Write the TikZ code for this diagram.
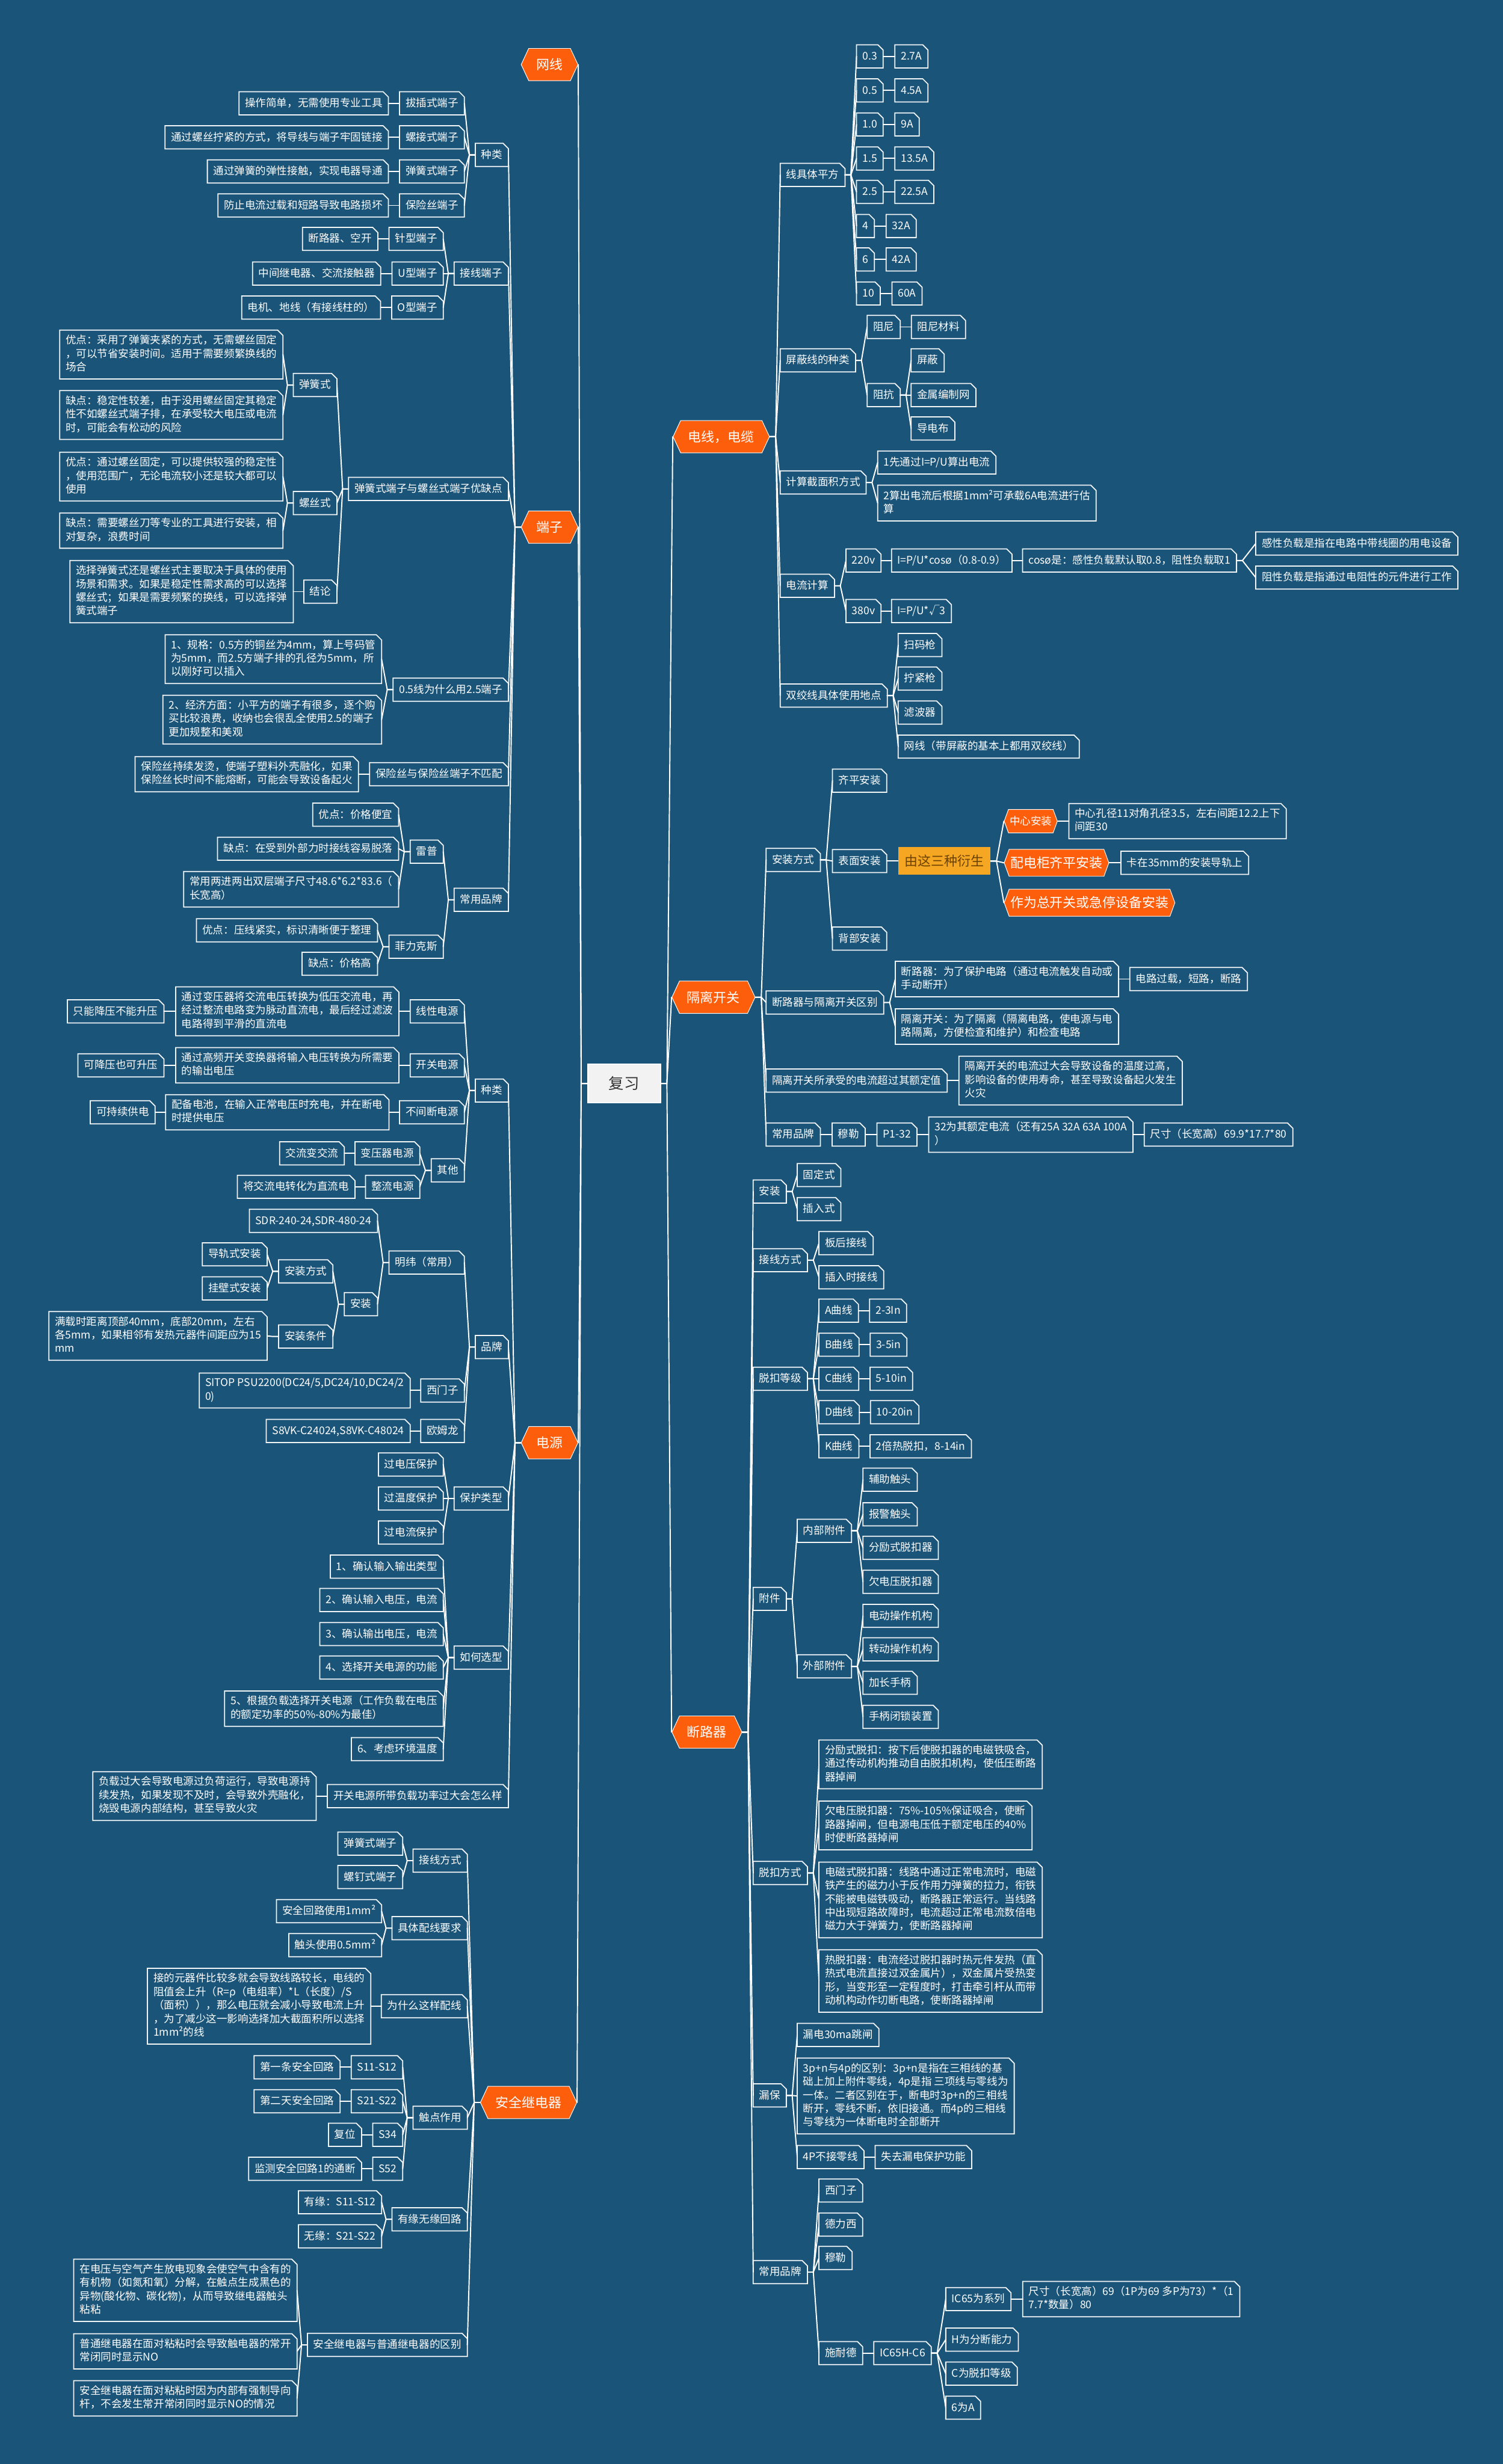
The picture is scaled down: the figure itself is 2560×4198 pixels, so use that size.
\documentclass[tikz,border=0pt]{standalone}
\usepackage{fontspec}
\newfontfamily\cjk{Noto Sans CJK SC}
\usetikzlibrary{shapes.symbols,positioning}
\definecolor{bg}{HTML}{1A5479}
\definecolor{org}{HTML}{FC5E0C}
\definecolor{amb}{HTML}{F5A623}
\definecolor{ambt}{HTML}{6B4200}
\definecolor{bd}{HTML}{F2F5F7}
\definecolor{ctrf}{HTML}{F2F2F2}
\definecolor{ctrt}{HTML}{333333}
\newcommand\myStrA{\rule{0pt}{17.5pt}}
\newcommand\myStrB{\rule[-5.5pt]{0pt}{5.5pt}}
\newcommand\lk[2]{\draw[cn] (#1.west) -- ++(-10,0) -- (#2.east);}
\newcommand\rk[2]{\draw[cn] (#1.east) -- ++(10,0) -- (#2.west);}
\pgfdeclarelayer{bgl}
\pgfsetlayers{bgl,main}
\tikzset{
  bx/.style={rectangle, inner xsep=10pt, inner ysep=8pt, text=white, align=left,
    font=\cjk\fontsize{18}{23}\selectfont,
    execute at begin node=\myStrA, execute at end node=\myStrB,
    append after command={\pgfextra{\let\LN\tikzlastnode
      \draw[bd, line width=1.8pt, line join=miter]
        (\LN.south west) -- (\LN.north west) -- ([xshift=-9pt]\LN.north east)
        -- ([yshift=-9pt]\LN.north east) -- (\LN.south east) -- cycle;}}},
  L/.style={bx, anchor=east},
  R/.style={bx, anchor=west},
  mn/.style={signal, signal to=east and west, signal pointer angle=130,
    fill=org, draw=white, line width=1pt, text=white,
    font=\cjk\fontsize{22.5}{26}\selectfont, inner xsep=13pt, inner ysep=4pt, minimum height=55pt},
  so/.style={mn, inner xsep=2pt, minimum height=46pt, signal pointer angle=140},
  soc/.style={so, font=\cjk\fontsize{18}{22}\selectfont, minimum height=40pt},
  am/.style={rectangle, fill=amb, text=ambt, font=\cjk\fontsize{22.5}{26}\selectfont, inner xsep=11pt, minimum height=47pt},
  ctr/.style={rectangle, fill=ctrf, draw=white, line width=2pt, text=ctrt, font=\cjk\fontsize{26}{30}\selectfont, inner xsep=36pt, minimum height=66pt},
  cn/.style={draw=white, line width=2pt, line join=round, line cap=round},
}
\begin{document}
\begin{tikzpicture}[x=1pt,y=-1pt]
\useasboundingbox (0,0) rectangle (2560,4198);
\begin{pgfonlayer}{bgl}\fill[bg] (0,0) rectangle (2560,4198);\end{pgfonlayer}

% center
\node[ctr] (fx) at (1063,1846) {复习};

% ===== left main
\node[mn, anchor=east] (wx) at (985,110) {网线};
\node[mn, anchor=east] (dz) at (985,898) {端子};
\node[mn, anchor=east] (dy) at (985,2458) {电源};
\node[mn, anchor=east] (aq) at (983,3582) {安全继电器};

% 端子
\node[L] (dz1) at (866,264) {种类};
\node[L] (dz2) at (866,466) {接线端子};
\node[L] (dz3) at (866,833) {弹簧式端子与螺丝式端子优缺点};
\node[L] (dz4) at (866,1175) {0.5线为什么用2.5端子};
\node[L] (dz5) at (866,1319) {保险丝与保险丝端子不匹配};
\node[L] (dz6) at (866,1533) {常用品牌};

\node[L] (a1) at (791,176) {拔插式端子};
\node[L, left=19pt of a1] (a1t) {操作简单，无需使用专业工具};
\node[L] (a2) at (791,234) {螺接式端子};
\node[L, left=19pt of a2] (a2t) {通过螺丝拧紧的方式，将导线与端子牢固链接};
\node[L] (a3) at (791,292) {弹簧式端子};
\node[L, left=19pt of a3] (a3t) {通过弹簧的弹性接触，实现电器导通};
\node[L] (a4) at (791,350) {保险丝端子};
\node[L, left=19pt of a4] (a4t) {防止电流过载和短路导致电路损坏};

\node[L] (b1) at (755,407) {针型端子};
\node[L, left=19pt of b1] (b1t) {断路器、空开};
\node[L] (b2) at (755,466) {U型端子};
\node[L, left=19pt of b2] (b2t) {中间继电器、交流接触器};
\node[L] (b3) at (755,524) {O型端子};
\node[L, left=19pt of b3] (b3t) {电机、地线（有接线柱的）};

\node[L] (c1) at (574,656) {弹簧式};
\node[L] (c1a) at (482,604) {优点：采用了弹簧夹紧的方式，无需螺丝固定\\，可以节省安装时间。适用于需要频繁换线的\\场合};
\node[L] (c1b) at (482,707) {缺点：稳定性较差，由于没用螺丝固定其稳定\\性不如螺丝式端子排，在承受较大电压或电流\\时，可能会有松动的风险};
\node[L] (c2) at (574,857) {螺丝式};
\node[L] (c2a) at (482,812) {优点：通过螺丝固定，可以提供较强的稳定性\\，使用范围广，无论电流较小还是较大都可以\\使用};
\node[L] (c2b) at (482,904) {缺点：需要螺丝刀等专业的工具进行安装，相\\对复杂，浪费时间};
\node[L] (c3) at (574,1008) {结论};
\node[L, left=18pt of c3] (c3a) {选择弹簧式还是螺丝式主要取决于具体的使用\\场景和需求。如果是稳定性需求高的可以选择\\螺丝式；如果是需要频繁的换线，可以选择弹\\簧式端子};

\node[L] (d1) at (650,1123) {1、规格：0.5方的铜丝为4mm，算上号码管\\为5mm，而2.5方端子排的孔径为5mm，所\\以刚好可以插入};
\node[L] (d2) at (650,1226) {2、经济方面：小平方的端子有很多，逐个购\\买比较浪费，收纳也会很乱全使用2.5的端子\\更加规整和美观};

\node[L, left=19pt of dz5] (e1) {保险丝持续发烫，使端子塑料外壳融化，如果\\保险丝长时间不能熔断，可能会导致设备起火};

\node[L] (f1) at (755,1451) {雷普};
\node[L] (f2) at (755,1613) {菲力克斯};
\node[L] (f1a) at (679,1388) {优点：价格便宜};
\node[L] (f1b) at (679,1446) {缺点：在受到外部力时接线容易脱落};
\node[L] (f1c) at (679,1515) {常用两进两出双层端子尺寸48.6*6.2*83.6（\\长宽高）};
\node[L] (f2a) at (643,1585) {优点：压线紧实，标识清晰便于整理};
\node[L] (f2b) at (643,1642) {缺点：价格高};

% 电源
\node[L] (g1) at (866,1858) {种类};
\node[L] (g2) at (866,2295) {品牌};
\node[L] (g3) at (866,2553) {保护类型};
\node[L] (g4) at (866,2824) {如何选型};
\node[L] (g5) at (866,3060) {开关电源所带负载功率过大会怎么样};

\node[L] (h1) at (791,1723) {线性电源};
\node[L, left=19pt of h1] (h1a) {通过变压器将交流电压转换为低压交流电，再\\经过整流电路变为脉动直流电，最后经过滤波\\电路得到平滑的直流电};
\node[L, left=20pt of h1a] (h1b) {只能降压不能升压};
\node[L] (h2) at (791,1815) {开关电源};
\node[L, left=19pt of h2] (h2a) {通过高频开关变换器将输入电压转换为所需要\\的输出电压};
\node[L, left=20pt of h2a] (h2b) {可降压也可升压};
\node[L] (h3) at (791,1895) {不间断电源};
\node[L, left=18pt of h3] (h3a) {配备电池，在输入正常电压时充电，并在断电\\时提供电压};
\node[L, left=18pt of h3a] (h3b) {可持续供电};
\node[L] (h4) at (791,1994) {其他};
\node[L] (h4a) at (715,1965) {变压器电源};
\node[L, left=18pt of h4a] (h4a1) {交流变交流};
\node[L] (h4b) at (715,2022) {整流电源};
\node[L, left=18pt of h4b] (h4b1) {将交流电转化为直流电};

\node[L] (i1) at (791,2151) {明纬（常用）};
\node[L] (i2) at (791,2369) {西门子};
\node[L, left=18pt of i2] (i2a) {SITOP PSU2200(DC24/5,DC24/10,DC24/2\\0)};
\node[L] (i3) at (791,2438) {欧姆龙};
\node[L, left=18pt of i3] (i3a) {S8VK-C24024,S8VK-C48024};
\node[L] (j1) at (643,2080) {SDR-240-24,SDR-480-24};
\node[L] (j2) at (643,2222) {安装};
\node[L] (k1) at (567,2166) {安装方式};
\node[L] (k2) at (567,2277) {安装条件};
\node[L] (k1a) at (455,2137) {导轨式安装};
\node[L] (k1b) at (455,2195) {挂壁式安装};
\node[L] (k2a) at (455,2276) {满载时距离顶部40mm，底部20mm，左右\\各5mm，如果相邻有发热元器件间距应为15\\mm};

\node[L] (l1) at (755,2495) {过电压保护};
\node[L] (l2) at (755,2553) {过温度保护};
\node[L] (l3) at (755,2611) {过电流保护};

\node[L] (m1) at (755,2669) {1、确认输入输出类型};
\node[L] (m2) at (755,2726) {2、确认输入电压，电流};
\node[L] (m3) at (755,2784) {3、确认输出电压，电流};
\node[L] (m4) at (755,2841) {4、选择开关电源的功能};
\node[L] (m5) at (755,2911) {5、根据负载选择开关电源（工作负载在电压\\的额定功率的50\%-80\%为最佳）};
\node[L] (m6) at (755,2980) {6、考虑环境温度};

\node[L, left=19pt of g5] (n1) {负载过大会导致电源过负荷运行，导致电源持\\续发热，如果发现不及时，会导致外壳融化，\\烧毁电源内部结构，甚至导致火灾};

% 安全继电器
\node[L] (o1) at (796,3170) {接线方式};
\node[L] (o2) at (796,3285) {具体配线要求};
\node[L] (o3) at (796,3418) {为什么这样配线};
\node[L] (o4) at (796,3608) {触点作用};
\node[L] (o5) at (796,3781) {有缘无缘回路};
\node[L] (o6) at (796,3995) {安全继电器与普通继电器的区别};

\node[L] (p1) at (686,3141) {弹簧式端子};
\node[L] (p2) at (686,3198) {螺钉式端子};
\node[L] (q1) at (650,3256) {安全回路使用1mm²};
\node[L] (q2) at (650,3314) {触头使用0.5mm²};
\node[L, left=18pt of o3] (r1) {接的元器件比较多就会导致线路较长，电线的\\阻值会上升（R=ρ（电组率）*L（长度）/S\\（面积）），那么电压就会减小导致电流上升\\，为了减少这一影响选择加大截面积所以选择\\1mm²的线};

\node[L] (s1) at (686,3522) {S11-S12};
\node[L, left=19pt of s1] (s1a) {第一条安全回路};
\node[L] (s2) at (686,3580) {S21-S22};
\node[L, left=19pt of s2] (s2a) {第二天安全回路};
\node[L] (s3) at (686,3637) {S34};
\node[L, left=19pt of s3] (s3a) {复位};
\node[L] (s4) at (686,3695) {S52};
\node[L, left=19pt of s4] (s4a) {监测安全回路1的通断};

\node[L] (t1) at (650,3752) {有缘：S11-S12};
\node[L] (t2) at (650,3810) {无缘：S21-S22};

\node[L] (u1) at (506,3902) {在电压与空气产生放电现象会使空气中含有的\\有机物（如氮和氧）分解，在触点生成黑色的\\异物(酸化物、碳化物)，从而导致继电器触头\\粘粘};
\node[L] (u2) at (506,4006) {普通继电器在面对粘粘时会导致触电器的常开\\常闭同时显示NO};
\node[L] (u3) at (506,4086) {安全继电器在面对粘粘时因为内部有强制导向\\杆，不会发生常开常闭同时显示NO的情况};

% ===== right main
\node[mn, anchor=west] (dx) at (1146,744) {电线，电缆};
\node[mn, anchor=west] (gl) at (1144,1699) {隔离开关};
\node[mn, anchor=west] (dl) at (1144,2951) {断路器};

\node[R] (v1) at (1329,298) {线具体平方};
\node[R] (v2) at (1329,614) {屏蔽线的种类};
\node[R] (v3) at (1329,822) {计算截面积方式};
\node[R] (v4) at (1329,998) {电流计算};
\node[R] (v5) at (1329,1185) {双绞线具体使用地点};

\node[R] (w1) at (1459,96) {0.3};  \node[R, right=20pt of w1] (w1a) {2.7A};
\node[R] (w2) at (1459,154) {0.5}; \node[R, right=20pt of w2] (w2a) {4.5A};
\node[R] (w3) at (1459,212) {1.0}; \node[R, right=20pt of w3] (w3a) {9A};
\node[R] (w4) at (1459,270) {1.5}; \node[R, right=20pt of w4] (w4a) {13.5A};
\node[R] (w5) at (1459,327) {2.5}; \node[R, right=20pt of w5] (w5a) {22.5A};
\node[R] (w6) at (1459,385) {4};   \node[R, right=20pt of w6] (w6a) {32A};
\node[R] (w7) at (1459,442) {6};   \node[R, right=20pt of w7] (w7a) {42A};
\node[R] (w8) at (1459,500) {10};  \node[R, right=20pt of w8] (w8a) {60A};

\node[R] (x1) at (1477,557) {阻尼};
\node[R, right=19pt of x1] (x1a) {阻尼材料};
\node[R] (x2) at (1477,673) {阻抗};
\node[R] (x2a) at (1552,614) {屏蔽};
\node[R] (x2b) at (1552,673) {金属编制网};
\node[R] (x2c) at (1552,730) {导电布};

\node[R] (y1) at (1495,788) {1先通过I=P/U算出电流};
\node[R] (y2) at (1495,857) {2算出电流后根据1mm²可承载6A电流进行估\\算};

\node[R] (z1) at (1441,955) {220v};
\node[R, right=18pt of z1] (z1a) {I=P/U*cosø（0.8-0.9）};
\node[R, right=18pt of z1a] (z1b) {cosø是：感性负载默认取0.8，阻性负载取1};
\node[R] (z1c) at (2139,926) {感性负载是指在电路中带线圈的用电设备};
\node[R] (z1d) at (2139,984) {阻性负载是指通过电阻性的元件进行工作};
\node[R] (z2) at (1441,1041) {380v};
\node[R, right=18pt of z2] (z2a) {I=P/U*√3};

\node[R] (aa1) at (1530,1099) {扫码枪};
\node[R] (aa2) at (1530,1156) {拧紧枪};
\node[R] (aa3) at (1530,1214) {滤波器};
\node[R] (aa4) at (1530,1272) {网线（带屏蔽的基本上都用双绞线）};

% 隔离开关
\node[R] (bb1) at (1305,1465) {安装方式};
\node[R] (bb2) at (1305,1708) {断路器与隔离开关区别};
\node[R] (bb3) at (1305,1841) {隔离开关所承受的电流超过其额定值};
\node[R] (bb4) at (1305,1933) {常用品牌};

\node[R] (cc1) at (1418,1330) {齐平安装};
\node[R] (cc2) at (1418,1467) {表面安装};
\node[R] (cc3) at (1418,1599) {背部安装};
\node[am, anchor=west] (cc2a) at (1530,1467) {由这三种衍生};
\node[soc, anchor=west] (dd1) at (1710,1399) {中心安装};
\node[R, right=19pt of dd1] (dd1a) {中心孔径11对角孔径3.5，左右间距12.2上下\\间距30};
\node[so, anchor=west] (dd2) at (1710,1470) {配电柜齐平安装};
\node[R, right=20pt of dd2] (dd2a) {卡在35mm的安装导轨上};
\node[so, anchor=west] (dd3) at (1710,1538) {作为总开关或急停设备安装};

\node[R] (ee1) at (1525,1668) {断路器：为了保护电路（通过电流触发自动或\\手动断开）};
\node[R, right=19pt of ee1] (ee1a) {电路过载，短路，断路};
\node[R] (ee2) at (1525,1749) {隔离开关：为了隔离（隔离电路，使电源与电\\路隔离，方便检查和维护）和检查电路};
\node[R, right=20pt of bb3] (ff1) {隔离开关的电流过大会导致设备的温度过高，\\影响设备的使用寿命，甚至导致设备起火发生\\火灾};

\node[R, right=20pt of bb4] (gg1) {穆勒};
\node[R, right=20pt of gg1] (gg2) {P1-32};
\node[R, right=20pt of gg2] (gg3) {32为其额定电流（还有25A 32A 63A 100A\\）};
\node[R, right=19pt of gg3] (gg4) {尺寸（长宽高）69.9*17.7*80};

% 断路器
\node[R] (hh1) at (1283,2030) {安装};
\node[R] (hh2) at (1283,2147) {接线方式};
\node[R] (hh3) at (1283,2349) {脱扣等级};
\node[R] (hh4) at (1283,2724) {附件};
\node[R] (hh5) at (1283,3191) {脱扣方式};
\node[R] (hh6) at (1283,3570) {漏保};
\node[R] (hh7) at (1283,3871) {常用品牌};

\node[R] (ii1) at (1358,2002) {固定式};
\node[R] (ii2) at (1358,2060) {插入式};
\node[R] (jj1) at (1395,2118) {板后接线};
\node[R] (jj2) at (1395,2176) {插入时接线};

\node[R] (kk1) at (1395,2233) {A曲线}; \node[R, right=19pt of kk1] (kk1a) {2-3In};
\node[R] (kk2) at (1395,2291) {B曲线}; \node[R, right=19pt of kk2] (kk2a) {3-5in};
\node[R] (kk3) at (1395,2349) {C曲线}; \node[R, right=19pt of kk3] (kk3a) {5-10in};
\node[R] (kk4) at (1395,2406) {D曲线}; \node[R, right=19pt of kk4] (kk4a) {10-20in};
\node[R] (kk5) at (1395,2464) {K曲线}; \node[R, right=19pt of kk5] (kk5a) {2倍热脱扣，8-14in};

\node[R] (ll1) at (1358,2608) {内部附件};
\node[R] (ll2) at (1358,2839) {外部附件};
\node[R] (mm1) at (1470,2521) {辅助触头};
\node[R] (mm2) at (1470,2580) {报警触头};
\node[R] (mm3) at (1470,2637) {分励式脱扣器};
\node[R] (mm4) at (1470,2695) {欠电压脱扣器};
\node[R] (nn1) at (1470,2753) {电动操作机构};
\node[R] (nn2) at (1470,2810) {转动操作机构};
\node[R] (nn3) at (1470,2867) {加长手柄};
\node[R] (nn4) at (1470,2925) {手柄闭锁装置};

\node[R] (oo1) at (1395,3006) {分励式脱扣：按下后使脱扣器的电磁铁吸合，\\通过传动机构推动自由脱扣机构，使低压断路\\器掉闸};
\node[R] (oo2) at (1395,3110) {欠电压脱扣器：75\%-105\%保证吸合，使断\\路器掉闸，但电源电压低于额定电压的40\%\\时使断路器掉闸};
\node[R] (oo3) at (1395,3237) {电磁式脱扣器：线路中通过正常电流时，电磁\\铁产生的磁力小于反作用力弹簧的拉力，衔铁\\不能被电磁铁吸动，断路器正常运行。当线路\\中出现短路故障时，电流超过正常电流数倍电\\磁力大于弹簧力，使断路器掉闸};
\node[R] (oo4) at (1395,3375) {热脱扣器：电流经过脱扣器时热元件发热（直\\热式电流直接过双金属片），双金属片受热变\\形，当变形至一定程度时，打击牵引杆从而带\\动机构动作切断电路，使断路器掉闸};

\node[R] (pp1) at (1358,3467) {漏电30ma跳闸};
\node[R] (pp2) at (1358,3571) {3p+n与4p的区别：3p+n是指在三相线的基\\础上加上附件零线，4p是指 三项线与零线为\\一体。二者区别在于，断电时3p+n的三相线\\断开，零线不断，依旧接通。而4p的三相线\\与零线为一体断电时全部断开};
\node[R] (pp3) at (1358,3675) {4P不接零线};
\node[R, right=19pt of pp3] (pp3a) {失去漏电保护功能};

\node[R] (qq1) at (1395,3732) {西门子};
\node[R] (qq2) at (1395,3790) {德力西};
\node[R] (qq3) at (1395,3847) {穆勒};
\node[R] (qq4) at (1395,4009) {施耐德};
\node[R, right=19pt of qq4] (qq5) {IC65H-C6};
\node[R] (qq6) at (1611,3917) {IC65为系列};
\node[R, right=20pt of qq6] (qq6a) {尺寸（长宽高）69（1P为69 多P为73）*（1\\7.7*数量）80};
\node[R] (qq7) at (1611,3986) {H为分断能力};
\node[R] (qq8) at (1611,4044) {C为脱扣等级};
\node[R] (qq9) at (1611,4102) {6为A};

% ===== connectors
\begin{pgfonlayer}{bgl}
\foreach \c in {wx,dz,dy,aq} {\draw[cn] (fx.west) -- ++(-10,0) -- (\c.east);}
\foreach \c in {dx,gl,dl} {\draw[cn] (fx.east) -- ++(10,0) -- (\c.west);}
\foreach \c in {dz1,dz2,dz3,dz4,dz5,dz6} {\lk{dz}{\c}}
\foreach \c in {a1,a2,a3,a4} {\lk{dz1}{\c}}
\lk{a1}{a1t}\lk{a2}{a2t}\lk{a3}{a3t}\lk{a4}{a4t}
\foreach \c in {b1,b2,b3} {\lk{dz2}{\c}}
\lk{b1}{b1t}\lk{b2}{b2t}\lk{b3}{b3t}
\foreach \c in {c1,c2,c3} {\lk{dz3}{\c}}
\lk{c1}{c1a}\lk{c1}{c1b}\lk{c2}{c2a}\lk{c2}{c2b}\lk{c3}{c3a}
\lk{dz4}{d1}\lk{dz4}{d2}\lk{dz5}{e1}
\lk{dz6}{f1}\lk{dz6}{f2}
\lk{f1}{f1a}\lk{f1}{f1b}\lk{f1}{f1c}\lk{f2}{f2a}\lk{f2}{f2b}
\foreach \c in {g1,g2,g3,g4,g5} {\lk{dy}{\c}}
\foreach \c in {h1,h2,h3,h4} {\lk{g1}{\c}}
\lk{h1}{h1a}\lk{h1a}{h1b}\lk{h2}{h2a}\lk{h2a}{h2b}\lk{h3}{h3a}\lk{h3a}{h3b}
\lk{h4}{h4a}\lk{h4}{h4b}\lk{h4a}{h4a1}\lk{h4b}{h4b1}
\foreach \c in {i1,i2,i3} {\lk{g2}{\c}}
\lk{i1}{j1}\lk{i1}{j2}\lk{j2}{k1}\lk{j2}{k2}\lk{k1}{k1a}\lk{k1}{k1b}\lk{k2}{k2a}
\lk{i2}{i2a}\lk{i3}{i3a}
\foreach \c in {l1,l2,l3} {\lk{g3}{\c}}
\foreach \c in {m1,m2,m3,m4,m5,m6} {\lk{g4}{\c}}
\lk{g5}{n1}
\foreach \c in {o1,o2,o3,o4,o5,o6} {\lk{aq}{\c}}
\lk{o1}{p1}\lk{o1}{p2}\lk{o2}{q1}\lk{o2}{q2}\lk{o3}{r1}
\foreach \c in {s1,s2,s3,s4} {\lk{o4}{\c}}
\lk{s1}{s1a}\lk{s2}{s2a}\lk{s3}{s3a}\lk{s4}{s4a}
\lk{o5}{t1}\lk{o5}{t2}
\foreach \c in {u1,u2,u3} {\lk{o6}{\c}}

\foreach \c in {v1,v2,v3,v4,v5} {\rk{dx}{\c}}
\foreach \c in {1,...,8} {\rk{v1}{w\c}\rk{w\c}{w\c a}}
\rk{v2}{x1}\rk{v2}{x2}\rk{x1}{x1a}\rk{x2}{x2a}\rk{x2}{x2b}\rk{x2}{x2c}
\rk{v3}{y1}\rk{v3}{y2}
\rk{v4}{z1}\rk{v4}{z2}\rk{z1}{z1a}\rk{z1a}{z1b}\rk{z1b}{z1c}\rk{z1b}{z1d}\rk{z2}{z2a}
\foreach \c in {aa1,aa2,aa3,aa4} {\rk{v5}{\c}}
\foreach \c in {bb1,bb2,bb3,bb4} {\rk{gl}{\c}}
\rk{bb1}{cc1}\rk{bb1}{cc2}\rk{bb1}{cc3}\rk{cc2}{cc2a}
\rk{cc2a}{dd1}\rk{cc2a}{dd2}\rk{cc2a}{dd3}\rk{dd1}{dd1a}\rk{dd2}{dd2a}
\rk{bb2}{ee1}\rk{bb2}{ee2}\rk{ee1}{ee1a}\rk{bb3}{ff1}
\rk{bb4}{gg1}\rk{gg1}{gg2}\rk{gg2}{gg3}\rk{gg3}{gg4}
\foreach \c in {hh1,hh2,hh3,hh4,hh5,hh6,hh7} {\rk{dl}{\c}}
\rk{hh1}{ii1}\rk{hh1}{ii2}\rk{hh2}{jj1}\rk{hh2}{jj2}
\foreach \c in {1,...,5} {\rk{hh3}{kk\c}\rk{kk\c}{kk\c a}}
\rk{hh4}{ll1}\rk{hh4}{ll2}
\foreach \c in {mm1,mm2,mm3,mm4} {\rk{ll1}{\c}}
\foreach \c in {nn1,nn2,nn3,nn4} {\rk{ll2}{\c}}
\foreach \c in {oo1,oo2,oo3,oo4} {\rk{hh5}{\c}}
\rk{hh6}{pp1}\rk{hh6}{pp2}\rk{hh6}{pp3}\rk{pp3}{pp3a}
\foreach \c in {qq1,qq2,qq3,qq4} {\rk{hh7}{\c}}
\rk{qq4}{qq5}
\foreach \c in {qq6,qq7,qq8,qq9} {\rk{qq5}{\c}}
\rk{qq6}{qq6a}
\end{pgfonlayer}
\end{tikzpicture}
\end{document}
